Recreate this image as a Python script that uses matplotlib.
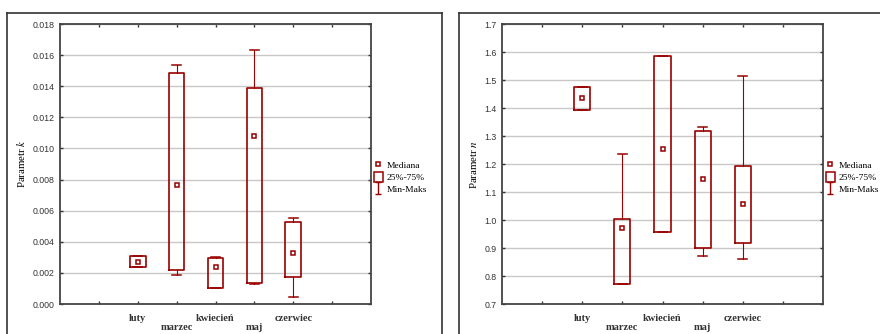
import matplotlib
matplotlib.use("Agg")
import matplotlib.pyplot as plt
from matplotlib.lines import Line2D
from matplotlib.patches import Patch
from matplotlib.path import Path

plt.rcParams["mathtext.fontset"] = "stix"

# --- dane ---
miesiace = ["luty", "marzec", "kwiecień", "maj", "czerwiec"]

k_med = [0.00270, 0.00765, 0.00240, 0.01080, 0.00328]
k_q1 = [0.00238, 0.00219, 0.00105, 0.00135, 0.00176]
k_q3 = [0.00306, 0.01485, 0.00296, 0.01391, 0.00525]
k_min = [0.00238, 0.00184, 0.00105, 0.00131, 0.00043]
k_max = [0.00306, 0.01534, 0.00300, 0.01635, 0.00551]

n_med = [1.434, 0.973, 1.252, 1.145, 1.057]
n_q1 = [1.394, 0.773, 0.957, 0.900, 0.919]
n_q3 = [1.474, 1.002, 1.584, 1.317, 1.192]
n_min = [1.394, 0.773, 0.957, 0.870, 0.860]
n_max = [1.474, 1.236, 1.584, 1.331, 1.513]

KOL = "#990000"
SERIF = ["Liberation Serif", "DejaVu Serif"]
SANS = ["Liberation Sans", "DejaVu Sans"]

fig = plt.figure(figsize=(8.8, 3.34), dpi=100)

# ramki paneli (współrzędne w pikselach)
W, H = 880, 334
def px(x, y):
    return x / W, 1 - y / H
for x0, x1 in [(7, 442), (459, 900)]:
    fig.add_artist(Line2D(*zip(px(x0, 13), px(x1, 13)), color="#333333", lw=1.2))
    fig.add_artist(Line2D(*zip(px(x0, 13), px(x0, 340)), color="#333333", lw=1.2))
    if x1 < W:
        fig.add_artist(Line2D(*zip(px(x1, 13), px(x1, 340)), color="#333333", lw=1.2))

ibeam = Path([(-0.5, 1), (0.5, 1), (0, 1), (0, -1), (-0.5, -1), (0.5, -1)],
             [Path.MOVETO, Path.LINETO, Path.MOVETO, Path.LINETO, Path.MOVETO, Path.LINETO])


def panel(rect, med, q1, q3, lo, hi, ylim, yticks, fmt, ylab, legx):
    ax = fig.add_axes(rect)
    stats = [dict(med=m, q1=a, q3=b, whislo=c, whishi=d, fliers=[])
             for m, a, b, c, d in zip(med, q1, q3, lo, hi)]
    pos = list(range(2, 7))
    ax.bxp(stats, positions=pos, widths=0.4, capwidths=0.22, showfliers=False,
           boxprops=dict(color=KOL, lw=1.2), whiskerprops=dict(color=KOL, lw=0.8),
           capprops=dict(color=KOL, lw=1.1), medianprops=dict(visible=False),
           manage_ticks=False)
    ax.plot(pos, med, ls="none", marker="s", ms=3.2, mfc="white", mec=KOL, mew=1.1)
    ax.set_xlim(0, 8)
    ax.set_ylim(*ylim)
    ax.set_yticks(yticks)
    ax.set_yticklabels([fmt.format(v) for v in yticks], family=SANS, fontsize=6.3)
    ax.set_xticks(range(1, 8))
    labs = [""] + [m if i % 2 == 0 else "\n" + m for i, m in enumerate(miesiace)] + [""]
    ax.set_xticklabels(labs, family=SERIF, fontsize=7.5, fontweight="bold",
                       linespacing=1.1)
    ax.tick_params(direction="in", length=2.5, width=1, top=True, right=True,
                   colors="#333333", pad=4)
    ax.tick_params(axis="x", pad=7)
    ax.yaxis.grid(True, color="#c8c8c8", lw=1)
    ax.set_axisbelow(True)
    for s in ax.spines.values():
        s.set_color("#444444")
        s.set_linewidth(1.3)
    ax.set_ylabel(ylab, family=SERIF, fontsize=7.8, labelpad=4)

    h = [Line2D([], [], ls="none", marker="s", ms=3, mfc="white", mec=KOL, mew=1.1),
         Patch(facecolor="white", edgecolor=KOL, lw=1.1),
         Line2D([], [], ls="none", marker=ibeam, ms=9, mfc="none", mec=KOL, mew=1.0)]
    fig.legend(h, ["Mediana", "25%-75%", "Min-Maks"], loc="center left",
               bbox_to_anchor=(legx / W, 1 - 177 / H), frameon=False,
               prop=dict(family=SERIF, size=6.8), handlelength=0.9, handleheight=1.4,
               handletextpad=0.4, labelspacing=0.1, borderpad=0, borderaxespad=0)
    return ax


panel([60 / W, 30 / H, 311 / W, 280 / H], k_med, k_q1, k_q3, k_min, k_max,
      (0, 0.018), [i * 0.002 for i in range(10)], "{:.3f}",
      r"Parametr $\mathit{k}$", 374)
panel([502 / W, 30 / H, 321 / W, 280 / H], n_med, n_q1, n_q3, n_min, n_max,
      (0.7, 1.7), [0.7 + i * 0.1 for i in range(11)], "{:.1f}",
      r"Parametr $\mathit{n}$", 826)

fig.savefig("out.png", dpi=100)
